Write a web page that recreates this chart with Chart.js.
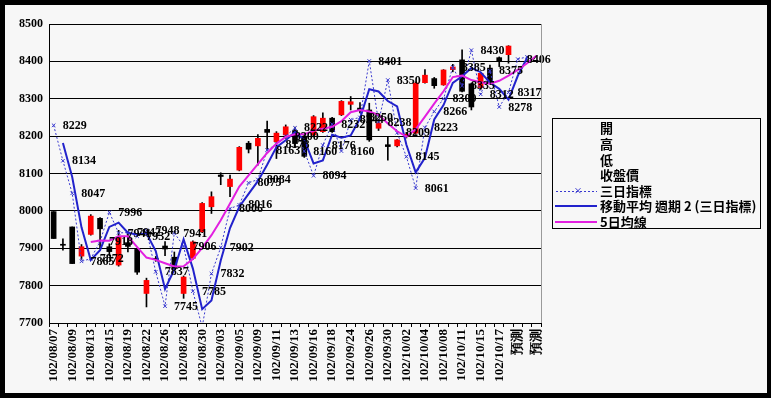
<!DOCTYPE html>
<html><head><meta charset="utf-8">
<script src="https://cdn.jsdelivr.net/npm/chart.js@4.4.1/dist/chart.umd.min.js"></script>
<style>
html,body{margin:0;padding:0;background:#000;}
#wrap{position:relative;width:771px;height:398px;}
</style></head><body>
<div id="wrap"><canvas id="c"></canvas></div>
<script>
// ---------- data ----------
const categories = ['102/08/07','102/08/08','102/08/09','102/08/12','102/08/13','102/08/14','102/08/15','102/08/16','102/08/19','102/08/20','102/08/22','102/08/23','102/08/26','102/08/27','102/08/28','102/08/29','102/08/30','102/09/02','102/09/03','102/09/04','102/09/05','102/09/06','102/09/09','102/09/10','102/09/11','102/09/12','102/09/13','102/09/14','102/09/16','102/09/17','102/09/18','102/09/23','102/09/24','102/09/25','102/09/26','102/09/27','102/09/30','102/10/01','102/10/02','102/10/03','102/10/04','102/10/07','102/10/08','102/10/09','102/10/11','102/10/14','102/10/15','102/10/16','102/10/17','102/10/18','預測','預測','預測'];
const openP  = [7998,7910,7957,7879,7937,7980,7904,7855,7915,7897,7779,7872,7906,7876,7779,7873,7944,8011,8096,8065,8109,8181,8174,8218,8185,8203,8215,8200,8203,8212,8248,8257,8285,8275,8270,8221,8177,8174,8200,8208,8343,8354,8337,8378,8404,8340,8330,8382,8410,8418];
const highP  = [7998,7925,7957,7910,7990,7982,7912,7948,7944,7900,7820,7878,7918,7890,7826,7920,8022,8051,8102,8096,8172,8186,8204,8240,8212,8230,8224,8203,8255,8262,8250,8295,8306,8290,8288,8240,8199,8191,8210,8345,8378,8357,8378,8392,8431,8342,8370,8390,8412,8442];
const lowP   = [7926,7895,7859,7870,7935,7900,7880,7852,7890,7830,7743,7865,7880,7840,7766,7870,7942,7993,8070,8038,8107,8155,8122,8163,8140,8194,8170,8143,8200,8210,8210,8255,8270,8262,8186,8215,8136,8171,8195,8205,8342,8328,8336,8372,8318,8270,8325,8340,8386,8395];
const closeP = [7926,7908,7859,7904,7986,7952,7891,7930,7905,7836,7814,7870,7898,7846,7823,7917,8020,8038,8092,8085,8170,8165,8194,8210,8208,8225,8180,8146,8252,8248,8212,8293,8292,8270,8190,8235,8172,8190,8205,8342,8363,8335,8377,8385,8320,8278,8368,8344,8400,8441];
const sanri  = [8229,8134,8047,7865,7872,7918,7996,7941,7942,7932,7948,7837,7745,7941,7906,7785,7689,7832,7902,8006,8016,8075,8084,8163,8178,8200,8222,8160,8094,8176,8232,8160,8244,8250,8401,8238,8350,8209,8145,8061,8223,8266,8300,8385,8335,8430,8312,8375,8278,8317,8406,8412,null];
const ma5    = [null,null,null,null,7917,7921,7920,7932,7932,7903,7875,7869,7860,7851,7852,7871,7901,7935,7975,8020,8065,8095,8125,8155,8180,8198,8205,8205,8214,8220,8225,8240,8264,8270,8266,8257,8234,8213,8199,8218,8252,8287,8320,8358,8362,8350,8344,8340,8348,8362,8377,8395,8415];
const yTickValues = [7700,7800,7900,8000,8100,8200,8300,8400,8500];
const legendLabels = ['開','高','低','收盤價','三日指標','移動平均 週期 2 (三日指標)','5日均線'];

// trendline: 2-period moving average of 三日指標 (as named in the legend)
const ma2 = sanri.map((v,i)=> (i>0 && v!=null && sanri[i-1]!=null) ? (v+sanri[i-1])/2 : null);

const RED='#ff0000', BLK='#000000', BLUE='#2222cc', DOT='#3a3ad0', MAG='#e21fe0';
const numFont = '"Liberation Serif", "Times New Roman", serif';
const cjkFont = '"Noto Sans CJK TC", "Noto Sans CJK SC", sans-serif';

const framePlugin = {
  id:'frame',
  beforeDraw(chart){
    const c=chart.ctx; c.save();
    c.fillStyle='#000'; c.fillRect(0,0,chart.width,chart.height);
    c.fillStyle='#f7f7f7'; c.fillRect(5,5,762,388);
    c.restore();
  },
  afterDraw(chart){
    const c=chart.ctx, a=chart.chartArea; c.save();
    c.strokeStyle='#9a9a9a'; c.lineWidth=1;
    c.beginPath(); c.moveTo(Math.round(a.right)+0.5,a.top); c.lineTo(Math.round(a.right)+0.5,a.bottom); c.stroke();
    // legend
    const bx=552.5, by=118.5, bw=208, bh=110;
    c.strokeStyle='#000'; c.strokeRect(bx,by,bw,bh);
    c.font='bold 13px '+cjkFont; c.fillStyle='#000'; c.textAlign='left'; c.textBaseline='middle';
    const y0=128.5, dy=15.55;
    legendLabels.forEach((t,i)=>{
      const yy=y0+i*dy;
      c.fillText(t,600,yy);
      if(i===4){
        c.strokeStyle=DOT; c.lineWidth=1; c.setLineDash([2,2]);
        c.beginPath(); c.moveTo(556,Math.round(yy)+0.5); c.lineTo(597,Math.round(yy)+0.5); c.stroke();
        c.setLineDash([]);
        c.beginPath(); c.moveTo(575.5,yy-2.5); c.lineTo(580.5,yy+2.5); c.moveTo(580.5,yy-2.5); c.lineTo(575.5,yy+2.5); c.stroke();
      } else if(i===5 || i===6){
        c.strokeStyle = i===5?BLUE:MAG; c.lineWidth=2;
        c.beginPath(); c.moveTo(555,Math.round(yy)); c.lineTo(597,Math.round(yy)); c.stroke();
      }
    });
    c.restore();
  }
};

const valueLabels = {
  id:'valueLabels',
  afterDatasetsDraw(chart){
    const meta=chart.getDatasetMeta(2), c=chart.ctx, ys=chart.scales.y;
    c.save();
    c.font='bold 12px '+numFont; c.fillStyle='#000'; c.textAlign='left'; c.textBaseline='middle';
    meta.data.forEach((pt,i)=>{
      const v=sanri[i];
      if(v==null || i>50 || v<ys.min || v>ys.max) return;
      c.fillText(String(v), pt.x+9, pt.y+0.5);
    });
    c.restore();
  }
};

new Chart(document.getElementById('c'), {
  type:'bar',
  data:{
    labels:categories,
    datasets:[
      {label:'高-低', data:lowP.map((l,i)=>[l,highP[i]]), backgroundColor:BLK, barThickness:1, grouped:false, order:5},
      {label:'開-收盤價', data:openP.map((o,i)=>[o,closeP[i]]), backgroundColor:openP.map((o,i)=>closeP[i]>=o?RED:BLK), barThickness:5, grouped:false, order:4, minBarLength:1},
      {type:'line', label:'三日指標', data:sanri, borderColor:DOT, borderWidth:1, borderDash:[2,2], pointStyle:'crossRot', pointRadius:2.5, pointBorderColor:DOT, pointBorderWidth:1, pointBackgroundColor:DOT, tension:0, order:2},
      {type:'line', label:'移動平均 週期 2 (三日指標)', data:ma2, borderColor:BLUE, borderWidth:2, pointRadius:0, tension:0, order:1},
      {type:'line', label:'5日均線', data:ma5, borderColor:MAG, borderWidth:2, pointRadius:0, tension:0, order:0}
    ]
  },
  options:{
    responsive:true, maintainAspectRatio:false, devicePixelRatio:1, animation:false,
    layout:{padding:{left:5,top:24,right:230,bottom:5}, autoPadding:false},
    plugins:{legend:{display:false}, tooltip:{enabled:false}},
    scales:{
      x:{
        offset:true,
        grid:{display:true, offset:true, drawOnChartArea:false, drawTicks:true, tickLength:4, color:'#000'},
        border:{display:true, color:'#000', width:1},
        ticks:{autoSkip:false, maxRotation:90, minRotation:90, padding:2, color:'#000',
          font:{family:numFont, size:13, weight:'bold'},
          callback:(v,i)=> i%2===0 ? categories[i] : ''},
        afterFit:(s)=>{ s.height=70; }
      },
      y:{
        min:7700, max:8500,
        afterBuildTicks:(s)=>{ s.ticks=yTickValues.map(v=>({value:v})); },
        grid:{color:'#000', lineWidth:1, drawTicks:false},
        border:{display:true, color:'#000', width:1},
        ticks:{padding:6, color:'#000', font:{family:numFont, size:12, weight:'bold'},
          callback:(v)=> String(v)},
        afterFit:(s)=>{ s.width=44; }
      }
    }
  },
  plugins:[framePlugin, valueLabels]
});
</script>
</body></html>
